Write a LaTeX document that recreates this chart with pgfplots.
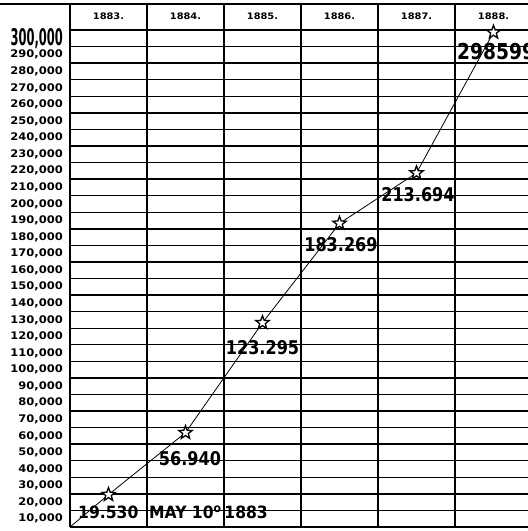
\documentclass[border=0pt]{standalone}
\usepackage{fontspec}
\setmainfont{DejaVu Sans}
\newfontfamily\cond[FakeStretch=0.85]{DejaVu Sans}
\newfontfamily\lcond[FakeStretch=0.92]{DejaVu Sans}
\newfontfamily\xcond[FakeStretch=0.5]{DejaVu Sans}
\newfontfamily\wide[FakeStretch=1.1]{DejaVu Sans}
\usepackage{graphicx}
\usepackage{pgfplots}
\pgfplotsset{compat=1.18}
\pgfdeclareplotmark{ostar}{%
  \pgfpathmoveto{\pgfpointpolar{90}{\pgfplotmarksize}}%
  \pgfpathlineto{\pgfpointpolar{126}{0.42\pgfplotmarksize}}%
  \pgfpathlineto{\pgfpointpolar{162}{\pgfplotmarksize}}%
  \pgfpathlineto{\pgfpointpolar{198}{0.42\pgfplotmarksize}}%
  \pgfpathlineto{\pgfpointpolar{234}{\pgfplotmarksize}}%
  \pgfpathlineto{\pgfpointpolar{270}{0.42\pgfplotmarksize}}%
  \pgfpathlineto{\pgfpointpolar{306}{\pgfplotmarksize}}%
  \pgfpathlineto{\pgfpointpolar{342}{0.42\pgfplotmarksize}}%
  \pgfpathlineto{\pgfpointpolar{18}{\pgfplotmarksize}}%
  \pgfpathlineto{\pgfpointpolar{54}{0.42\pgfplotmarksize}}%
  \pgfpathclose
  \pgfusepathqfillstroke
}
\pgfplotstableread{
idx value
0 19530
1 56940
2 123295
3 183269
4 213694
5 298599
}\visitors
\begin{document}
\begin{tikzpicture}
\begin{axis}[
  at={(70bp,4bp)}, anchor=south west,
  scale only axis, width=458bp, height=523bp,
  xmin=-0.5, xmax=5.448, ymin=0, ymax=315700,
  clip=false,
  axis line style={draw=none},
  xtick={-0.5,0.5,1.5,2.5,3.5,4.5},
  xticklabels={},
  ytick={0,10000,...,300000},
  yticklabels={},
  major tick length=0pt,
  xmajorgrids, ymajorgrids,
  major grid style={black, line width=1.4bp},
  extra y ticks={5000,15000,...,295000},
  extra y tick style={grid=none},
  extra y tick labels={{10,000},{20,000},{30,000},{40,000},{50,000},{60,000},{70,000},{80,000},{90,000},{100,000},{110,000},{120,000},{130,000},{140,000},{150,000},{160,000},{170,000},{180,000},{190,000},{200,000},{210,000},{220,000},{230,000},{240,000},{250,000},{260,000},{270,000},{280,000},{290,000},{\fontsize{23}{23}\selectfont\xcond\bfseries 300,000}},
  yticklabel style={font=\fontsize{10.5}{11}\selectfont\wide\bfseries, inner sep=0pt, anchor=east, xshift=-7bp},
]
\addplot[black, line width=0.8bp] coordinates {(-0.5,0) (0,19530) (1,56940) (2,123295) (3,183269) (4,213694) (5,298599)};
\addplot[only marks, mark=ostar, mark size=7bp, mark options={fill=white, draw=black, line width=1.3bp}] table[x=idx, y=value] {\visitors};
\draw[black, line width=1.4bp] (rel axis cs:0,0) -- (rel axis cs:1,0);
\node[font=\fontsize{9}{9}\selectfont\wide\bfseries] at (axis cs:0,308300) {1883.};
\node[font=\fontsize{9}{9}\selectfont\wide\bfseries] at (axis cs:1,308300) {1884.};
\node[font=\fontsize{9}{9}\selectfont\wide\bfseries] at (axis cs:2,308300) {1885.};
\node[font=\fontsize{9}{9}\selectfont\wide\bfseries] at (axis cs:3,308300) {1886.};
\node[font=\fontsize{9}{9}\selectfont\wide\bfseries] at (axis cs:4,308300) {1887.};
\node[font=\fontsize{9}{9}\selectfont\wide\bfseries] at (axis cs:5,308300) {1888.};
\node[font=\fontsize{17}{18}\selectfont\lcond\bfseries, anchor=west, inner sep=0pt] at (axis cs:-0.396,8800) {19.530 \ MAY 10\textsuperscript{o}\,1883};
\node[font=\fontsize{19}{20}\selectfont\cond\bfseries, inner sep=0pt] at (axis cs:1.058,41046) {56.940};
\node[font=\fontsize{19}{20}\selectfont\cond\bfseries, inner sep=0pt] at (axis cs:2.0,108000) {123.295};
\node[font=\fontsize{19}{20}\selectfont\cond\bfseries, inner sep=0pt] at (axis cs:3.019,170220) {183.269};
\node[font=\fontsize{19}{20}\selectfont\cond\bfseries, inner sep=0pt] at (axis cs:4.019,200400) {213.694};
\node[font=\fontsize{22}{23}\selectfont\cond\bfseries, anchor=west, inner sep=0pt] at (axis cs:4.526,286720) {298599};
\end{axis}
\draw[black, line width=1.4bp] (0,527bp) -- (528bp,527bp);
\pgfresetboundingbox
\path (0,0) rectangle (528bp,531bp);
\end{tikzpicture}
\end{document}
